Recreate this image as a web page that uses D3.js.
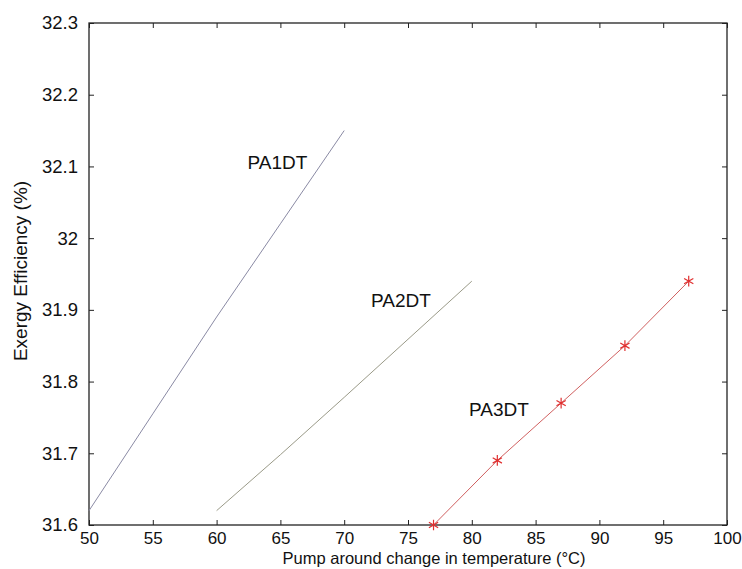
<!DOCTYPE html>
<html>
<head>
<meta charset="utf-8">
<script src="https://cdn.jsdelivr.net/npm/d3@7"></script>
<style>
  body { margin: 0; background: #fff; }
  svg { display: block; font-family: "Liberation Sans", Arial, sans-serif; }
  .xax .tick text { font-size: 17px; fill: #111; }
  .yax .tick text { font-size: 18.5px; fill: #111; }
  .domain { display: none; }
</style>
</head>
<body>
<svg id="chart" width="742" height="569"></svg>
<script>
/*** DATA ***/
let xTicks = [50, 55, 60, 65, 70, 75, 80, 85, 90, 95, 100];
let yTicks = [31.6, 31.7, 31.8, 31.9, 32, 32.1, 32.2, 32.3];

let pa1x = [50, 55, 60, 65, 70],
    pa1y = [31.62, 31.755, 31.89, 32.02, 32.15];
let pa2x = [60, 65, 70, 75, 80],
    pa2y = [31.62, 31.698, 31.778, 31.859, 31.94];
let pa3x = [77, 82, 87, 92, 97],
    pa3y = [31.60, 31.69, 31.77, 31.85, 31.94];

let seriesNames = ["PA1DT", "PA2DT", "PA3DT"];

/*** LAYOUT ***/
let margin = {top: 23, right: 15, bottom: 44, left: 89},
    width  = 742 - margin.left - margin.right,
    height = 569 - margin.top - margin.bottom;

let svg = d3.select("#chart");
let g = svg.append("g").attr("transform", "translate(" + margin.left + "," + margin.top + ")");

let x = d3.scaleLinear().domain([50, 100]).range([0, width]),
    y = d3.scaleLinear().domain([31.6, 32.3]).range([height, 0]);

// axes, ticks pointing inward (matlab style)
let fmtY = d => d3.format("")(+d.toFixed(1));

g.append("g").attr("class", "xax").attr("transform", "translate(0," + height + ")")
    .call(d3.axisBottom(x).tickValues(xTicks).tickSizeInner(-5).tickSizeOuter(0).tickPadding(7))
    .call(a => a.selectAll("line").attr("stroke", "#222"));
g.append("g")
    .call(d3.axisTop(x).tickValues(xTicks).tickSizeInner(-5).tickSizeOuter(0).tickFormat(""))
    .call(a => a.selectAll("line").attr("stroke", "#222"));
g.append("g").attr("class", "yax")
    .call(d3.axisLeft(y).tickValues(yTicks).tickSizeInner(-5).tickSizeOuter(0).tickPadding(11).tickFormat(fmtY))
    .call(a => a.selectAll("line").attr("stroke", "#222"));
g.append("g").attr("transform", "translate(" + width + ",0)")
    .call(d3.axisRight(y).tickValues(yTicks).tickSizeInner(-5).tickSizeOuter(0).tickFormat(""))
    .call(a => a.selectAll("line").attr("stroke", "#222"));

// box
g.append("rect")
    .attr("width", width).attr("height", height)
    .attr("fill", "none").attr("stroke", "#222").attr("stroke-width", 1.3);

// lines
let line = d3.line().x(d => x(d[0])).y(d => y(d[1]));

g.append("path").datum(d3.zip(pa1x, pa1y))
    .attr("d", line).attr("fill", "none").attr("stroke", "#8a8aa4").attr("stroke-width", 1);
g.append("path").datum(d3.zip(pa2x, pa2y))
    .attr("d", line).attr("fill", "none").attr("stroke", "#9a9a88").attr("stroke-width", 1);
g.append("path").datum(d3.zip(pa3x, pa3y))
    .attr("d", line).attr("fill", "none").attr("stroke", "#d06060").attr("stroke-width", 1);

// asterisk markers on PA3DT
let star = d3.symbol().type(d3.symbolAsterisk).size(80);
g.selectAll(".mark").data(d3.zip(pa3x, pa3y)).enter()
    .append("path")
    .attr("class", "mark")
    .attr("d", star)
    .attr("transform", d => "translate(" + x(d[0]) + "," + y(d[1]) + ")")
    .attr("fill", "none").attr("stroke", "#e03030").attr("stroke-width", 1.2);

// series labels
let labelPos = [[64.77, 32.096], [74.45, 31.904], [82.13, 31.752]];
g.selectAll(".lbl").data(seriesNames).enter()
    .append("text")
    .attr("class", "lbl")
    .attr("x", (d, i) => x(labelPos[i][0]))
    .attr("y", (d, i) => y(labelPos[i][1]))
    .attr("text-anchor", "middle")
    .attr("font-size", 19)
    .attr("fill", "#111")
    .text(d => d);

// axis titles
svg.append("text")
    .attr("x", 434).attr("y", 564)
    .attr("text-anchor", "middle")
    .attr("font-size", 16.5)
    .attr("fill", "#111")
    .text("Pump around change in temperature (°C)");

svg.append("text")
    .attr("transform", "translate(27,271) rotate(-90)")
    .attr("text-anchor", "middle")
    .attr("font-size", 19)
    .attr("fill", "#111")
    .text("Exergy Efficiency (%)");
</script>
</body>
</html>
